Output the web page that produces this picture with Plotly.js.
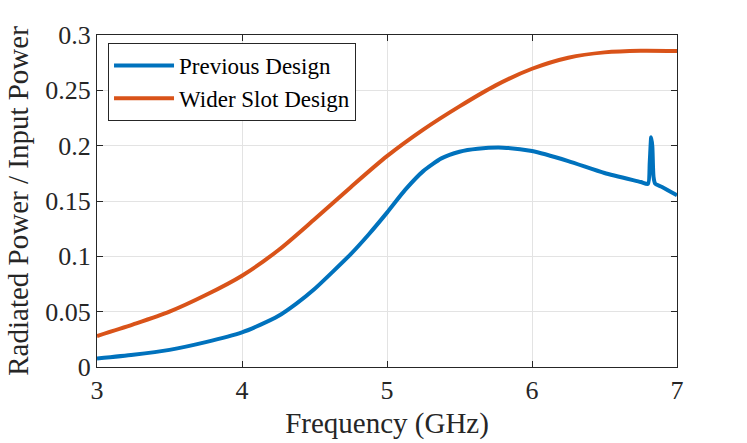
<!DOCTYPE html>
<html>
<head>
<meta charset="utf-8">
<script src="https://cdn.plot.ly/plotly-3.0.1.min.js"></script>
<style>html,body{margin:0;padding:0;background:#fff;}#chart{width:747px;height:443px;}</style>
</head>
<body>
<div id="chart"></div>
<script>
// Frequency (GHz) and ratio values
const prevFreq = [3, 3.25, 3.5, 3.75, 4, 4.125, 4.25, 4.375, 4.5, 4.625, 4.75, 4.875, 5, 5.125, 5.25, 5.375, 5.5, 5.625, 5.8, 6, 6.25, 6.5, 6.75, 6.8, 6.812, 6.822, 6.83, 6.838, 6.85, 6.9, 7];
const prevVals = [0.0076, 0.011, 0.0155, 0.0225, 0.0313, 0.038, 0.046, 0.0573, 0.0705, 0.086, 0.102, 0.12, 0.1395, 0.16, 0.177, 0.1885, 0.1945, 0.1972, 0.1982, 0.1952, 0.1861, 0.1753, 0.1672, 0.1655, 0.185, 0.2075, 0.199, 0.172, 0.1655, 0.1625, 0.1551];
const widerFreq = [3, 3.25, 3.5, 3.75, 4, 4.25, 4.5, 4.75, 5, 5.25, 5.5, 5.75, 6, 6.25, 6.5, 6.75, 7];
const widerVals = [0.028, 0.0385, 0.050, 0.065, 0.0825, 0.1055, 0.1335, 0.1625, 0.1905, 0.2145, 0.2355, 0.2545, 0.2695, 0.2795, 0.2843, 0.2858, 0.2855];
const seriesNames = ["Previous Design", "Wider Slot Design"];
const xTicks = [3, 4, 5, 6, 7];
const yTicks = [0, 0.05, 0.1, 0.15, 0.2, 0.25, 0.3];
const yTickText = ["0", "0.05", "0.1", "0.15", "0.2", "0.25", "0.3"];

const font = "'Liberation Serif', 'Times New Roman', serif";
const traces = [
  {x: prevFreq, y: prevVals, name: seriesNames[0], mode: "lines",
   line: {color: "#0072BD", width: 4, shape: "spline", smoothing: 0.6}},
  {x: widerFreq, y: widerVals, name: seriesNames[1], mode: "lines",
   line: {color: "#D95319", width: 4, shape: "spline", smoothing: 0.8}}
];
const axisCommon = {
  showline: true, linecolor: "#262626", linewidth: 1, mirror: "ticks",
  ticks: "inside", ticklen: 6, tickcolor: "#262626",
  showgrid: true, gridcolor: "#e3e3e3", gridwidth: 1, zeroline: false,
  tickfont: {family: font, size: 26, color: "#262626"}
};
const layout = {
  width: 747, height: 443,
  margin: {l: 97, r: 70, t: 35, b: 76},
  paper_bgcolor: "#fff", plot_bgcolor: "#fff",
  showlegend: true,
  legend: {x: 0.019, y: 0.976, xanchor: "left", yanchor: "top",
    bgcolor: "#fff", bordercolor: "#262626", borderwidth: 1,
    font: {family: font, size: 23, color: "#000"}, tracegroupgap: 0, itemwidth: 60},
  xaxis: Object.assign({}, axisCommon, {range: [3, 7], tickvals: xTicks, ticktext: xTicks.map(String),
    title: {text: "Frequency (GHz)", font: {family: font, size: 29, color: "#262626"}, standoff: 8}}),
  yaxis: Object.assign({}, axisCommon, {range: [0, 0.3], tickvals: yTicks, ticktext: yTickText,
    title: {text: "Radiated Power / Input Power", font: {family: font, size: 29, color: "#262626"}, standoff: 8}})
};
Plotly.newPlot("chart", traces, layout, {staticPlot: true, displayModeBar: false});
</script>
</body>
</html>
